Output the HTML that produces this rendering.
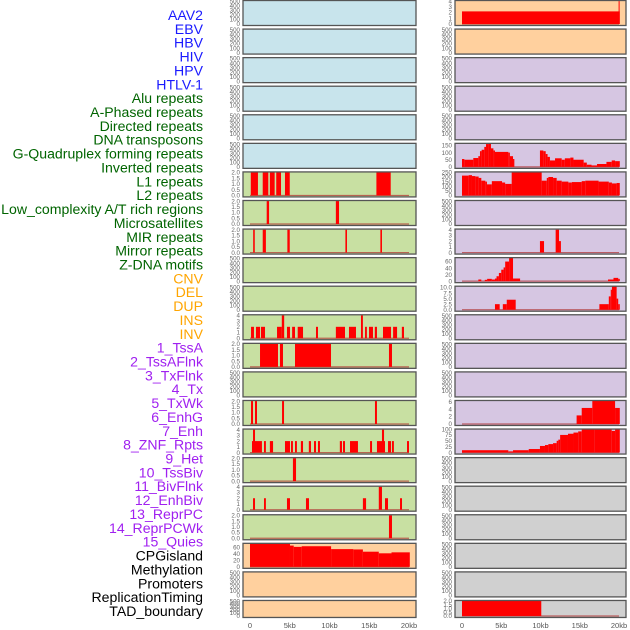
<!DOCTYPE html>
<html><head><meta charset="utf-8">
<style>
html,body{margin:0;padding:0;background:#fff;width:630px;height:630px;overflow:hidden}
svg{display:block}
text{font-family:"Liberation Sans",sans-serif}
</style></head>
<body>
<svg id="chart" width="630" height="630" viewBox="0 0 630 630"></svg>
<script>
// ---- labels ----
const labelNames = ["AAV2","EBV","HBV","HIV","HPV","HTLV-1","Alu repeats","A-Phased repeats","Directed repeats","DNA transposons","G-Quadruplex forming repeats","Inverted repeats","L1 repeats","L2 repeats","Low_complexity A/T rich regions","Microsatellites","MIR repeats","Mirror repeats","Z-DNA motifs","CNV","DEL","DUP","INS","INV","1_TssA","2_TssAFlnk","3_TxFlnk","4_Tx","5_TxWk","6_EnhG","7_Enh","8_ZNF_Rpts","9_Het","10_TssBiv","11_BivFlnk","12_EnhBiv","13_ReprPC","14_ReprPCWk","15_Quies","CPGisland","Methylation","Promoters","ReplicationTiming","TAD_boundary"];
const labelGroups = [6,13,5,15,5];
const groupColors = ["#1a1aff","#006400","#ffa500","#a020f0","#000000"];

// ---- panel background groups ----
const leftBg = ["b","b","b","b","b","b","g","g","g","g","g","g","g","g","g","g","g","g","g","o","o","o"];
const rightBg = ["o","o","l","l","l","l","l","l","l","l","l","l","l","l","l","l","y","y","y","y","y","y"];

// ---- y-axis max and ticks per panel ----
const E=[0,100,200,300,400,500], T2=[0.0,0.5,1.0,1.5,2.0], T4=[0,1,2,3,4];
const leftYMax = [520,520,520,520,520,520,2.05,2.05,2.05,520,520,4.1,2.05,520,2.05,4.1,2.05,4.1,2.05,73,520,520];
const leftTicks = [E,E,E,E,E,E,T2,T2,T2,E,E,T4,T2,E,T2,T4,T2,T4,T2,[0,20,40,60],E,E];
const rightYMax = [4.1,520,520,520,520,165,255,520,4.1,72,10.6,520,520,520,6.3,100,520,520,520,520,520,2.05];
const rightTicks = [T4,E,E,E,E,[0,50,100,150],[0,50,100,150,200,250],E,T4,[0,20,40,60],[0.0,2.5,5.0,7.5,10.0],E,E,E,[0,2,4,6],[0,25,50,75,100],E,E,E,E,E,T2];

// ---- series: [startKb, endKb, value] ----
const leftSeries = [
 [],[],[],[],[],[],
 [[0.1,1.0,2],[1.6,2.3,2],[2.5,3.1,2],[3.3,3.9,2],[4.4,5.0,2],[15.9,17.7,2]],
 [[2.1,2.4,2],[10.8,11.2,2]],
 [[0.4,0.6,2],[1.6,2.0,2],[4.7,5.0,2],[12.0,12.2,2],[16.4,16.6,2]],
 [],[],
 [[0.13,0.5,2],[0.75,1.26,2],[1.38,1.89,2],[3.4,4.0,2],[4.0,4.3,4],[4.65,5.03,2],[5.3,5.66,2],[6.0,6.67,2],[8.3,8.55,2],[10.8,11.95,2],[12.45,13.33,2],[13.96,14.2,4],[14.47,14.7,2],[14.97,15.47,2],[15.7,15.97,2],[16.73,17.74,2],[18.0,18.5,2],[19.1,19.37,2]],
 [[1.26,3.52,2],[3.77,4.15,2],[5.66,10.19,2],[17.48,17.86,2]],
 [],
 [[0.13,0.38,2],[0.63,0.88,2],[4.03,4.28,2],[15.72,15.97,2]],
 [[0.25,1.5,2],[0.38,0.63,4],[1.76,2.0,2],[2.5,2.9,2],[4.4,5.03,2],[5.16,5.4,2],[5.66,5.9,2],[6.4,6.67,2],[7.4,7.67,2],[8.05,8.3,2],[8.55,8.8,2],[11.3,11.57,2],[11.7,11.95,2],[12.58,13.58,2],[15.1,15.35,2],[15.97,16.98,2],[16.6,16.86,4],[17.36,17.74,2],[17.86,18.1,2],[19.75,20.0,2]],
 [[5.4,5.79,2]],
 [[0.38,0.63,2],[1.76,2.0,2],[4.65,5.03,2],[7.04,7.42,2],[14.2,14.6,2],[16.2,16.6,4],[16.98,17.36,2],[18.87,19.12,2]],
 [[17.48,17.86,2]],
 [[0,5.03,72],[5.03,5.5,66],[5.5,6.5,62],[6.5,10.2,64],[10.2,13.0,55],[13.0,14.2,54],[14.2,16.2,47],[16.2,17.8,42],[17.8,20.1,45]],
 [],[]
];
const rightSeries = [
 [[0,20.1,2.2],[19.95,20.05,4]],
 [],[],[],[],
 [[0,0.3,55],[0.3,1.44,50],[1.44,2.08,62],[2.08,2.29,75],[2.29,2.5,110],[2.5,2.84,120],[2.84,3.06,140],[3.06,3.36,160],[3.36,3.69,165],[3.69,4.0,130],[4.0,4.2,115],[4.2,5.9,105],[5.9,6.1,100],[6.1,6.5,75],[6.5,6.67,55],[9.93,10.36,115],[10.36,10.66,110],[10.66,10.9,90],[10.9,11.2,70],[11.2,11.85,45],[11.85,12.7,60],[12.7,13.1,50],[13.1,13.8,60],[13.8,14.2,65],[14.2,15.5,50],[15.5,15.9,30],[15.9,16.5,15],[16.5,17.2,10],[17.2,18.4,20],[18.4,19.07,35],[19.07,19.5,45],[19.5,20.1,40]],
 [[0,0.85,215],[0.85,1.27,220],[1.27,1.7,210],[1.7,2.12,205],[2.12,2.46,190],[2.46,2.97,160],[2.97,3.18,150],[3.18,3.8,120],[3.8,5.1,155],[5.1,5.5,140],[5.5,6.33,125],[6.33,10.15,260],[10.15,10.8,160],[10.8,11.0,190],[11.0,11.6,200],[11.6,12.06,190],[12.06,12.7,160],[12.7,13.55,150],[13.55,14.0,140],[14.0,15.25,145],[15.25,15.7,155],[15.7,17.4,160],[17.4,18.7,150],[18.7,19.1,140],[19.1,19.7,130],[19.7,20.1,135]],
 [],
 [[9.93,10.45,2],[11.93,12.36,4],[12.36,12.6,2]],
 [[2.08,2.46,5],[2.9,3.2,4],[3.2,3.8,7],[3.8,4.2,5],[4.2,4.4,8],[4.4,4.7,15],[4.7,5.0,25],[5.0,5.3,35],[5.3,5.5,42],[5.5,6.0,60],[6.0,6.5,72],[6.5,7.4,8],[18.6,19.3,5],[19.3,19.9,10],[19.9,20.1,7]],
 [[4.2,4.8,2.5],[5.2,5.7,2.5],[5.7,6.84,4.5],[17.5,18.7,2.5],[18.7,18.95,6],[18.95,19.1,9],[19.1,19.7,11],[19.7,19.9,5],[19.9,20.1,2.5]],
 [],[],[],
 [[14.6,15.25,2.3],[15.25,16.6,4.3],[16.6,19.5,6.3],[19.5,20.1,4.3]],
 [[0,5.9,10],[5.9,6.5,5],[6.5,8.5,10],[8.5,9.93,15],[9.93,10.57,28],[10.57,11.0,32],[11.0,11.6,36],[11.6,12.06,40],[12.06,12.27,50],[12.27,12.5,55],[12.5,13.5,75],[13.5,14.2,80],[14.2,14.8,85],[14.8,15.25,90],[15.25,16.9,100],[16.9,19.07,98],[19.07,19.5,92],[19.5,20.1,100]],
 [],[],[],[],[],
 [[0,10.1,2.05]]
];
const xTickKb = [0,5,10,15,20];
const xTickLabels = ["0","5kb","10kb","15kb","20kb"];

// ---- rendering ----
const NS="http://www.w3.org/2000/svg";
const svg=document.getElementById('chart');
const bgColors={b:"#c8e4ec",g:"#c8e0a2",o:"#ffd09e",l:"#d6c6e2",y:"#d0d0d0"};
const cols=[{x0:243,x1:416,k0:250,k20:409,bg:leftBg,ymax:leftYMax,ticks:leftTicks,ser:leftSeries,side:'left'},
            {x0:455,x1:626,k0:462,k20:619,bg:rightBg,ymax:rightYMax,ticks:rightTicks,ser:rightSeries,side:'right'}];
function mk(tag,attrs){const e=document.createElementNS(NS,tag);for(const k in attrs)e.setAttribute(k,attrs[k]);return e;}
function rowTop(i){return 0.5+i*28.57;}
function rowH(i){return i===21?17:25;}
function fmt(v,ticks){const dec=ticks.some(t=>!Number.isInteger(t));return dec?v.toFixed(1):String(v);}

// labels
let li=0;
labelGroups.forEach((n,g)=>{for(let j=0;j<n;j++){const t=mk('text',{x:203,y:(15+li*13.86+5).toFixed(1),'text-anchor':'end','font-size':'14.1',fill:groupColors[g]});
 
 
 t.textContent=labelNames[li];svg.appendChild(t);li++;}});

cols.forEach(c=>{
 const xs=kb=>c.k0+(kb)*(c.k20-c.k0)/20;
 for(let i=0;i<22;i++){
  const top=rowTop(i),h=rowH(i),bot=top+h-1.5,ymax=c.ymax[i];
  const ys=v=>bot-(v/ymax)*(bot-top);
  const g=mk('g',{});
  
  
  g.appendChild(mk('rect',{x:c.x0,y:top,width:c.x1-c.x0,height:h,fill:bgColors[c.bg[i]]}));
  const segs=c.ser[i];
  if(segs.length){
   const bl=mk('line',{x1:xs(0),x2:xs(20),y1:bot,y2:bot,stroke:'#b03030','stroke-width':1.2,opacity:0.7});
   
   
   g.appendChild(bl);
  }
  segs.forEach(s=>{
   const v=Math.min(s[2],ymax);
   const r=mk('rect',{x:xs(s[0]).toFixed(2),y:ys(v).toFixed(2),width:Math.max(1,xs(s[1])-xs(s[0])).toFixed(2),height:(bot-ys(v)).toFixed(2),fill:'#ff0000'});
   
   
   g.appendChild(r);
  });
  g.appendChild(mk('rect',{x:c.x0,y:top,width:c.x1-c.x0,height:h,fill:'none',stroke:'#555','stroke-width':1.3}));
  const tk=c.ticks[i];
  tk.forEach(t=>{
   const y=ys(t);
   if(y<top-3)return;
   const tx=mk('text',{x:c.x0-3,y:(y+2.2).toFixed(1),'text-anchor':'end','font-size':'6.2',fill:'#666'});
   
   
   tx.textContent=fmt(t,tk);g.appendChild(tx);
  });
  svg.appendChild(g);
 }
 xTickKb.forEach((k,j)=>{
  const t=mk('text',{x:xs(k).toFixed(1),y:628,'text-anchor':'middle','font-size':'7.5',fill:'#555'});
  
  
  t.textContent=xTickLabels[j];svg.appendChild(t);
 });
});
</script>
</body></html>
